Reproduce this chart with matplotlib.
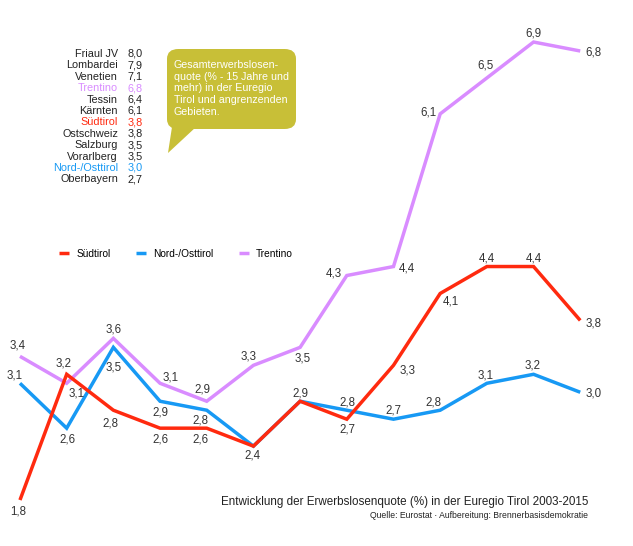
import matplotlib
matplotlib.use("Agg")
import matplotlib.pyplot as plt
from matplotlib.patches import FancyBboxPatch, Polygon

plt.rcParams["font.family"] = ["Liberation Sans", "DejaVu Sans"]

W, H = 633, 546

years = list(range(2003, 2016))
suedtirol = [1.8, 3.2, 2.8, 2.6, 2.6, 2.4, 2.9, 2.7, 3.3, 4.1, 4.4, 4.4, 3.8]
nordost = [3.1, 2.6, 3.5, 2.9, 2.8, 2.4, 2.9, 2.8, 2.7, 2.8, 3.1, 3.2, 3.0]
trentino = [3.4, 3.1, 3.6, 3.1, 2.9, 3.3, 3.5, 4.3, 4.4, 6.1, 6.5, 6.9, 6.8]

regions = ["Friaul JV", "Lombardei", "Venetien", "Trentino", "Tessin", "Kärnten",
           "Südtirol", "Ostschweiz", "Salzburg", "Vorarlberg", "Nord-/Osttirol", "Oberbayern"]
rates_2015 = [8.0, 7.9, 7.1, 6.8, 6.4, 6.1, 3.8, 3.8, 3.5, 3.5, 3.0, 2.7]

RED = "#ff2a0f"
BLUE = "#1799f4"
PURPLE = "#d98cff"
GREY = "#333333"

# label offsets in pixels (None = no label, shared with another series)
off_sued = [(-2, -11), (-3, 11), (-3, -13), (0, -11), (-6, -11), (-1, -9), (0, 8),
            (1, -10), (14, -5), (11, -8), (0, 8), (0, 8), (13, -3)]
off_nord = [(-5, 8), (1, -11), (0, -20), (0, -11), (-6, -10), None, None,
            (1, 8), (0, 9), (-7, 8), (-1, 8), (-1, 9), (13, -1)]
off_tren = [(-2, 11), (10, -10), (0, 9), (11, 6), (-4, 12), (-5, 9), (3, -11),
            (-13, 2), (13, -2), (-12, 1), (-1, 12), (0, 9), (13, -1)]


def px(x, y):
    return x / W, 1 - y / H


def fmt(v):
    return f"{v:.1f}".replace(".", ",")


fig = plt.figure(figsize=(W / 100, H / 100), dpi=100)
ax = fig.add_axes([0, 0, 1, 1])
ax.set_xlim(2002.572, 2016.13)
ax.set_ylim(1.288, 7.368)
ax.axis("off")

series = [
    ("Trentino", trentino, PURPLE, off_tren),
    ("Nord-/Osttirol", nordost, BLUE, off_nord),
    ("Südtirol", suedtirol, RED, off_sued),
]
handles = {}
for name, vals, color, offs in series:
    (ln,) = ax.plot(years, vals, color=color, lw=2.5, solid_joinstyle="miter",
                    solid_capstyle="butt", label=name)
    handles[name] = ln
    for yr, v, off in zip(years, vals, offs):
        if off is None:
            continue
        ax.annotate(fmt(v), (yr, v), xytext=off, textcoords="offset pixels",
                    ha="center", va="center", fontsize=8.3, color=GREY)

order = ["Südtirol", "Nord-/Osttirol", "Trentino"]
leg = fig.legend([handles[n] for n in order], order, ncol=3, frameon=False,
                 loc="center left", bbox_to_anchor=px(50, 254), fontsize=7.3,
                 handlelength=1.0, handletextpad=0.7, columnspacing=2.5)
for ln in leg.get_lines():
    ln.set_linewidth(2.5)

# ranking list
colmap = {"Trentino": PURPLE, "Südtirol": RED, "Nord-/Osttirol": BLUE}
for i, (reg, r) in enumerate(zip(regions, rates_2015)):
    y = 54 + i * 11.4
    c = colmap.get(reg, "#222222")
    fig.text(*px(118, y), reg, ha="right", va="center", fontsize=7.8, color=c)
    fig.text(*px(128, y), fmt(r), ha="left", va="center", fontsize=7.8, color=c)

# speech bubble
OLIVE = "#c8bf37"
x0, y0 = px(167, 129)
x1, y1 = px(296, 49)
box = FancyBboxPatch((x0, y0), x1 - x0, y1 - y0, boxstyle="round,pad=0,rounding_size=0.018",
                     transform=fig.transFigure, fc=OLIVE, ec="none")
fig.patches.append(box)
tail = Polygon([px(172, 127), px(196, 127), px(168, 153)], closed=True,
               transform=fig.transFigure, fc=OLIVE, ec="none")
fig.patches.append(tail)
bubble_lines = ["Gesamterwerbslosen-", "quote (% - 15 Jahre und", "mehr) in der Euregio",
                "Tirol und angrenzenden", "Gebieten."]
for i, t in enumerate(bubble_lines):
    fig.text(*px(174, 65 + i * 11.7), t, ha="left", va="center", fontsize=7.7, color="white")

fig.text(*px(588, 502), "Entwicklung der Erwerbslosenquote (%) in der Euregio Tirol 2003-2015",
         ha="right", va="center", fontsize=8.4, color="#222222")
fig.text(*px(588, 516), "Quelle: Eurostat · Aufbereitung: Brennerbasisdemokratie",
         ha="right", va="center", fontsize=6.2, color="#222222")

fig.savefig("out.png", dpi=100)
